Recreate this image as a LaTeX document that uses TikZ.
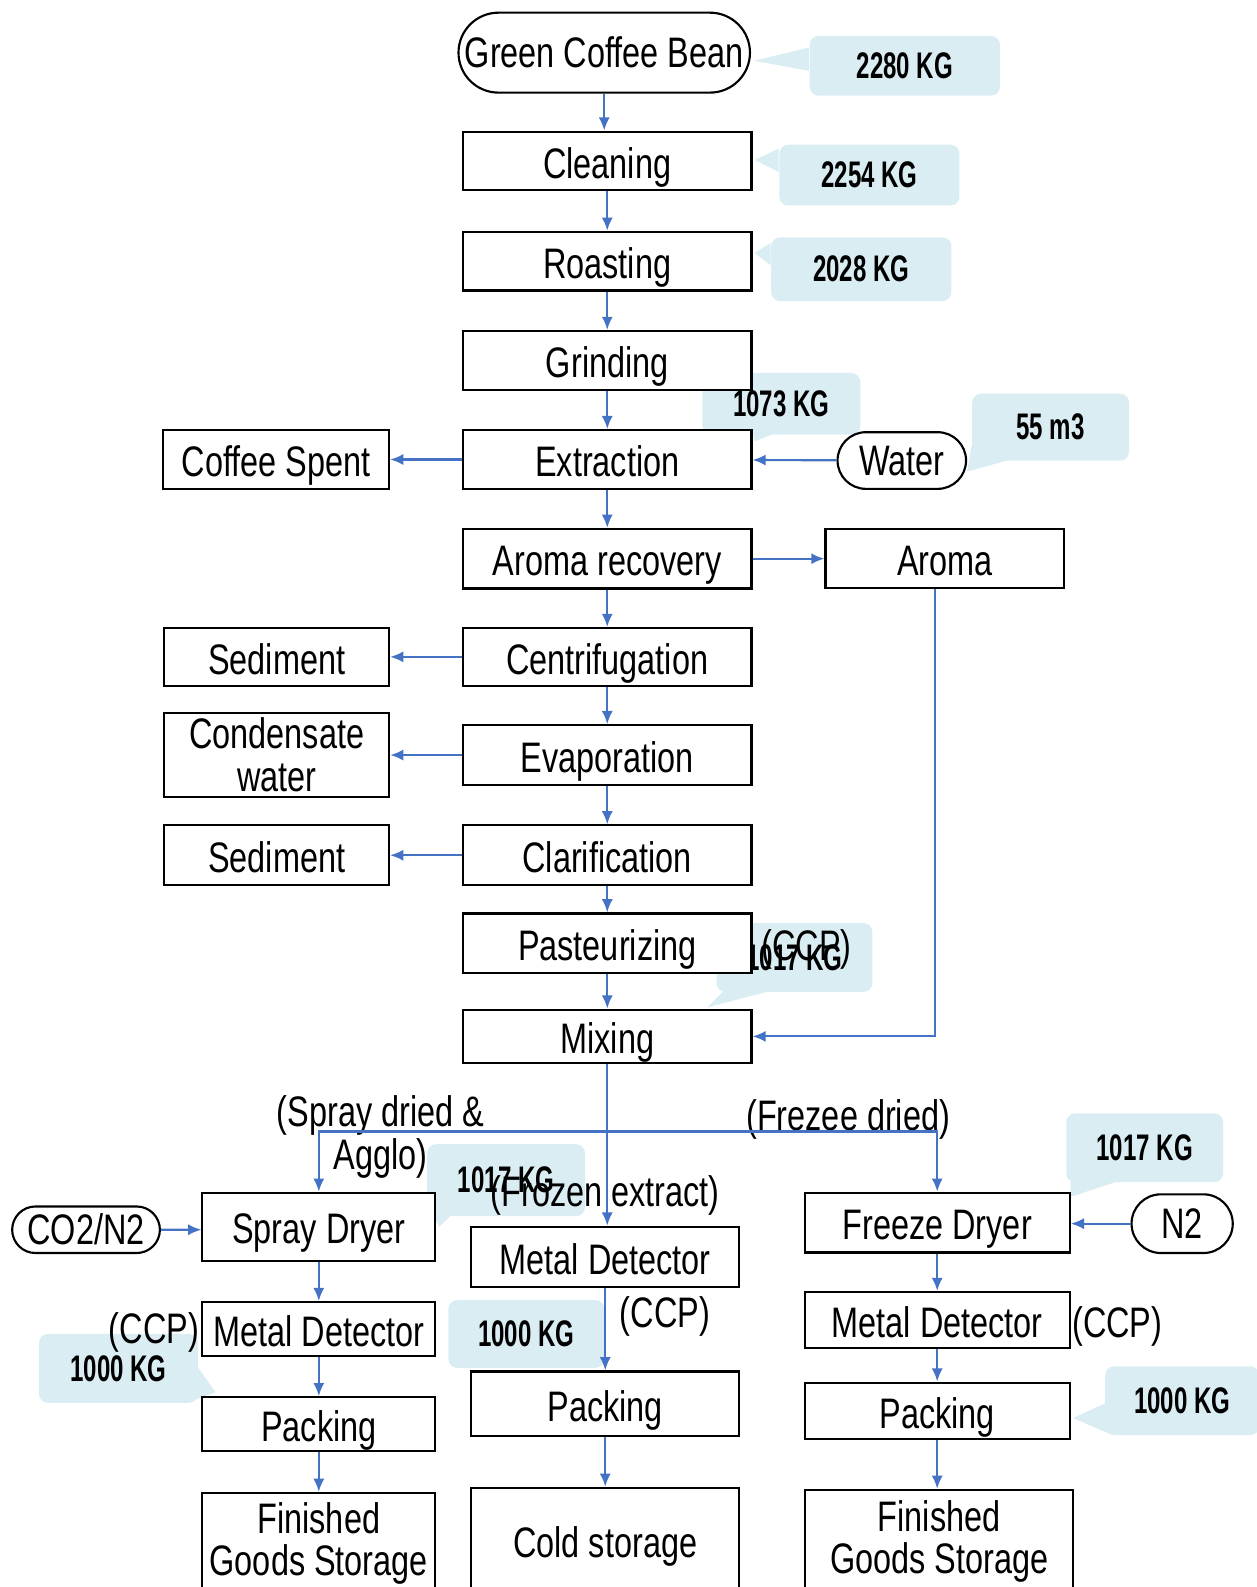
\documentclass[tikz,border=0pt]{standalone}
\usepackage{fontspec}
\setmainfont{Liberation Sans}[FakeStretch=0.76]
\newfontfamily\kgfont{Liberation Sans}[FakeStretch=0.65]
\usetikzlibrary{positioning, arrows.meta, calc, backgrounds, shapes.misc}
\definecolor{flowblue}{RGB}{68,114,196}
\definecolor{kgblue}{RGB}{218,237,243}

\begin{document}
\begin{tikzpicture}[
  x=0.1mm, y=-0.1mm,
  font=\fontsize{12pt}{12pt}\selectfont,
  >={Latex[length=1.3mm,width=1.1mm]},
  base/.style={draw=black, fill=white, line width=0.6pt, inner sep=1pt, align=center},
  proc/.style={base, text height=9.7pt, text depth=0pt},
  main/.style={proc, minimum width=28.5mm, minimum height=5.8mm},
  side/.style={proc, minimum width=22.2mm, minimum height=5.8mm},
  pill/.style={base, rounded rectangle},
  kg/.style={fill=kgblue, rounded corners=2.5pt, inner sep=0pt,
    font=\kgfont\bfseries\fontsize{10.4pt}{10.4pt}\selectfont},
  flow/.style={->, draw=flowblue, line width=0.6pt},
  note/.style={inner sep=1pt, align=center, text height=8pt, text depth=0pt},
]
\useasboundingbox (0,0) rectangle (1241,1568);

% main line
\node[pill, minimum width=29.5mm, minimum height=7.9mm] (bean) at (597,52) {Green Coffee Bean};
\node[main] (clean)    at (600,159) {Cleaning};
\node[main] (roast)    at (600,258) {Roasting};
\node[main] (grind)    at (600,356) {Grinding};
\node[main] (extract)  at (600,454) {Extraction};
\node[main, minimum height=5.9mm] (aromarec) at (600,552) {Aroma recovery};
\node[main, minimum height=5.7mm] (centri)   at (600,649) {Centrifugation};
\node[main, minimum height=5.9mm] (evap)     at (600,746) {Evaporation};
\node[main, minimum height=5.9mm] (clarif)   at (600,845) {Clarification};
\node[main, minimum height=5.9mm] (past)     at (600,932) {Pasteurizing};
\node[main, minimum height=5.3mm] (mix)      at (600,1024) {Mixing};

% side boxes
\node[side, minimum width=22.3mm, left=7.1mm of extract] (spent) {Coffee Spent};
\node[pill, minimum width=13.4mm, minimum height=5.6mm] (water) at (891,455) {Water};
\node[side, minimum width=23.6mm, right=7.1mm of aromarec] (aroma) {Aroma};
\node[side, minimum height=5.7mm, left=7.1mm of centri] (sed1) {Sediment};
\node[base, minimum width=22.2mm, minimum height=8.3mm, left=7.1mm of evap] (cond) {Condensate\\water};
\node[side, minimum height=5.9mm, left=7.1mm of clarif] (sed2) {Sediment};

% spray dried line
\node[proc, minimum width=23mm, minimum height=6.7mm] (spray) at (315,1212) {Spray Dryer};
\node[pill, minimum width=15.3mm, minimum height=4.6mm] (co2) at (85,1215) {CO2/N2};
\node[proc, minimum width=23mm, minimum height=5.3mm] (md1) at (315,1313) {Metal Detector};
\node[proc, minimum width=23mm, minimum height=5.3mm] (pack1) at (315,1407) {Packing};
\node[base, minimum width=23mm, minimum height=10mm] (fin1) at (315,1525) {Finished\\Goods Storage};

% frozen extract line
\node[proc, minimum width=26.5mm, minimum height=6mm] (mdm) at (598,1242) {Metal Detector};
\node[proc, minimum width=26.5mm, minimum height=6.4mm] (packm) at (598,1387) {Packing};
\node[proc, minimum width=26.5mm, minimum height=10.4mm] (cold) at (598,1522) {Cold storage};

% freeze dried line
\node[proc, minimum width=26.2mm, minimum height=5.9mm] (freeze) at (926,1208) {Freeze Dryer};
\node[pill, minimum width=10.7mm, minimum height=5.8mm] (n2) at (1168,1209) {N2};
\node[proc, minimum width=26.2mm, minimum height=5.5mm] (md3) at (926,1304) {Metal Detector};
\node[proc, minimum width=26.2mm, minimum height=5.6mm] (pack3) at (926,1394) {Packing};
\node[base, minimum width=26.5mm, minimum height=10.2mm] (fin3) at (928,1523) {Finished\\Goods Storage};

% texts
\node[inner sep=1pt, align=center] (lspray) at (376,1123) {(Spray dried \&\\Agglo)};
\node[note] (lfreeze) at (838,1103) {(Frezee dried)};
\node[note] (lfrozen) at (598,1178) {(Frozen extract)};
\node[note] (ccp1) at (797,935)  {(CCP)};
\node[note] (ccp2) at (152,1313) {(CCP)};
\node[note] (ccp3) at (657,1298) {(CCP)};
\node[note] (ccp4) at (1104,1307) {(CCP)};

% mass callouts
\begin{scope}[on background layer]
\node[kg, minimum width=18.8mm, minimum height=5.9mm] (k1) at (894,65) {2280 KG};
\node[kg, minimum width=17.8mm, minimum height=6mm] (k2) at (859,173) {2254 KG};
\node[kg, minimum width=17.8mm, minimum height=6.3mm] (k3) at (851,266) {2028 KG};
\node[kg, minimum width=15.6mm, minimum height=6.1mm] (k4) at (772,399) {1073 KG};
\node[kg, minimum width=15.5mm, minimum height=6.6mm] (k5) at (1038,422) {55 m3};
\node[kg, minimum width=15.4mm, minimum height=6.8mm] (k6) at (785,946) {1017 KG};
\node[kg, minimum width=15.6mm, minimum height=7.1mm] (k7) at (500,1166) {1017 KG};
\node[kg, minimum width=15.5mm, minimum height=6.8mm] (k8) at (1131,1134) {1017 KG};
\node[kg, minimum width=15.7mm, minimum height=6.8mm] (k9) at (117,1352) {1000 KG};
\node[kg, minimum width=15.4mm, minimum height=6.7mm] (k10) at (520,1318) {1000 KG};
\node[kg, minimum width=15.2mm, minimum height=6.8mm] (k11) at (1168,1384) {1000 KG};

\fill[kgblue] ($(k1.west)+(0,-18)$) -- ($(bean.east)+(3,8)$) -- ($(k1.west)+(0,5)$) -- cycle;
\fill[kgblue] ($(k2.west)+(0,-26)$) -- ($(clean.east)+(2,-1)$) -- ($(k2.west)+(0,-3)$) -- cycle;
\fill[kgblue] ($(k3.west)+(0,-26)$) -- ($(roast.east)+(2,-8)$) -- ($(k3.west)+(0,-4)$) -- cycle;
\fill[kgblue] ($(k4.south)+(-28,-2)$) -- ($(extract.north east)+(2,12)$) -- ($(k4.south)+(-6,-2)$) -- cycle;
\fill[kgblue] ($(k5.south west)+(0,-15)$) -- ($(water.east)+(0,11)$) -- ($(k5.south west)+(40,-2)$) -- cycle;
\fill[kgblue] ($(k6.south west)+(8,-2)$) -- ($(mix.north east)+(-45,-1)$) -- ($(k6.south west)+(55,-2)$) -- cycle;
\fill[kgblue] ($(k7.south west)+(0,-15)$) -- ($(spray.east)+(3,0)$) -- ($(k7.south west)+(25,-2)$) -- cycle;
\fill[kgblue] ($(k8.south west)+(5,-2)$) -- ($(freeze.north east)+(0,5)$) -- ($(k8.south west)+(53,-2)$) -- cycle;
\fill[kgblue] ($(k9.east)+(-2,-3)$) -- ($(pack1.north west)+(14,-4)$) -- ($(k9.south east)+(-8,-2)$) -- cycle;
\fill[kgblue] ($(k11.west)+(2,2)$) -- ($(pack3.east)+(2,7)$) -- ($(k11.south west)+(5,-2)$) -- cycle;
\end{scope}

% connectors
\draw[flow] (bean.south) -- (bean.south |- clean.north);
\draw[flow] (clean) -- (roast);
\draw[flow] (roast) -- (grind);
\draw[flow] (grind) -- (extract);
\draw[flow] (extract) -- (aromarec);
\draw[flow] (aromarec) -- (centri);
\draw[flow] (centri) -- (evap);
\draw[flow] (evap) -- (clarif);
\draw[flow] (clarif) -- (past);
\draw[flow] (past) -- (mix);
\draw[flow] (extract) -- (spent);
\draw[flow] (water) -- (extract);
\draw[flow] (aromarec) -- (aroma);
\draw[flow] (centri) -- (sed1);
\draw[flow] (evap.west) -- (evap.west -| cond.east);
\draw[flow] (clarif) -- (sed2);
\draw[flow] ($(aroma.south)+(-10,0)$) |- (mix.east);

\coordinate (split) at (600,1118);
\draw[flow] (mix.south) -- (mix.south |- mdm.north);
\draw[flow] (split) -| (spray.north);
\draw[flow] (split) -| (freeze.north);

\draw[flow] (co2) -- (co2 -| spray.west);
\draw[flow] (spray) -- (md1);
\draw[flow] (md1) -- (pack1);
\draw[flow] (pack1) -- (fin1);
\draw[flow] (mdm) -- (packm);
\draw[flow] (packm) -- (cold);
\draw[flow] (n2) -- (n2 -| freeze.east);
\draw[flow] (freeze) -- (md3);
\draw[flow] (md3) -- (pack3);
\draw[flow] (pack3.south) -- (pack3.south |- fin3.north);

\end{tikzpicture}
\end{document}
